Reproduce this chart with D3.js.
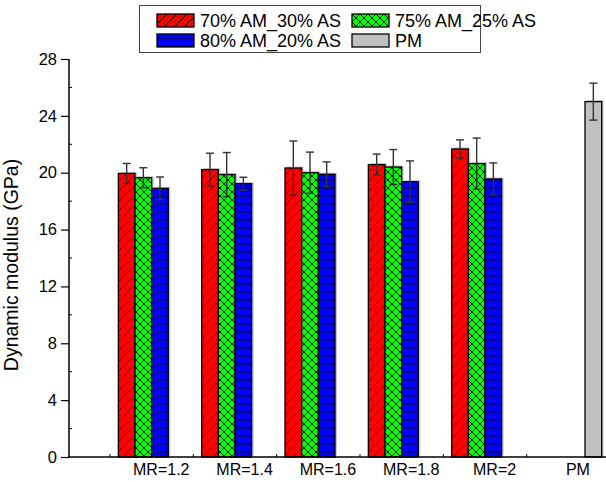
<!DOCTYPE html>
<html>
<head>
<meta charset="utf-8">
<script src="https://cdn.jsdelivr.net/npm/d3@7"></script>
<style>
  body { margin: 0; background: #fff; }
  text { font-family: "Liberation Sans", Arial, sans-serif; fill: #000; }
</style>
</head>
<body>
<svg id="chart" width="606" height="482"></svg>
<script>
// categories and series
var categories = ['MR=1.2', 'MR=1.4', 'MR=1.6', 'MR=1.8', 'MR=2', 'PM'];
var seriesNames = ['70% AM_30% AS', '75% AM_25% AS', '80% AM_20% AS', 'PM'];

// values (GPa) and error bars
var am70 = [19.95, 20.22, 20.33, 20.57, 21.67, null];
var am70Err = [0.70, 1.15, 1.90, 0.74, 0.64, null];
var am75 = [19.65, 19.87, 20.00, 20.40, 20.64, null];
var am75Err = [0.70, 1.55, 1.45, 1.23, 1.80, null];
var am80 = [18.90, 19.23, 19.89, 19.37, 19.56, null];
var am80Err = [0.80, 0.45, 0.87, 1.46, 1.13, null];
var pm = [null, null, null, null, null, 25.0];
var pmErr = [null, null, null, null, null, 1.3];

var yTicks = [0, 4, 8, 12, 16, 20, 24, 28];
var yMinorTicks = [2, 6, 10, 14, 18, 22, 26];

var values = [am70, am75, am80, pm];
var errors = [am70Err, am75Err, am80Err, pmErr];
var fills = ['url(#hatchRed)', 'url(#hatchGreen)', 'url(#hatchBlue)', '#c0c0c0'];

var svg = d3.select('#chart');

// hatch patterns
var defs = svg.append('defs');
function pattern(id, bg, size, paths) {
  var p = defs.append('pattern')
    .attr('id', id)
    .attr('patternUnits', 'userSpaceOnUse')
    .attr('width', size).attr('height', size);
  p.append('rect').attr('width', size).attr('height', size).attr('fill', bg);
  paths.forEach(function(d) {
    p.append('path').attr('d', d).attr('stroke', '#000')
      .attr('stroke-width', 0.9).attr('fill', 'none');
  });
}
pattern('hatchRed', '#ff0000', 10, ['M-2,2 L2,-2 M0,10 L10,0 M8,12 L12,8']);
pattern('hatchGreen', '#00ff00', 8, ['M-2,2 L2,-2 M0,8 L8,0 M6,10 L10,6',
                                     'M-2,6 L2,10 M0,0 L8,8 M6,-2 L10,2']);
pattern('hatchBlue', '#0000ff', 8, ['M0,4 L8,4']);

var plotLeft = 69, plotRight = 610, plotTop = 59, plotBottom = 457;

var x0 = d3.scaleBand().domain(categories).range([110, plotRight]).padding(0);
var x1 = d3.scaleBand().domain(d3.range(4)).range([0, x0.bandwidth()])
  .paddingInner(0).paddingOuter(0.5);
var y = d3.scaleLinear().domain([0, 28]).range([plotBottom, plotTop]);

// flat list of bars
var bars = [];
categories.forEach(function(c, i) {
  values.forEach(function(s, k) {
    if (s[i] != null) bars.push({ cat: c, k: k, v: s[i], e: errors[k][i] });
  });
});

var g = svg.append('g');

// soft shadow behind bars
g.selectAll('rect.shadow')
  .data(bars)
  .enter()
    .append('rect')
    .attr('class', 'shadow')
    .attr('x', function(d) { return x0(d.cat) + x1(d.k) + 2; })
    .attr('y', function(d) { return y(d.v) - 1.5; })
    .attr('width', x1.bandwidth())
    .attr('height', function(d) { return plotBottom - y(d.v); })
    .attr('fill', '#c8c8d4');

g.selectAll('rect.bar')
  .data(bars)
  .enter()
    .append('rect')
    .attr('class', 'bar')
    .attr('x', function(d) { return x0(d.cat) + x1(d.k); })
    .attr('y', function(d) { return y(d.v); })
    .attr('width', x1.bandwidth())
    .attr('height', function(d) { return plotBottom - y(d.v); })
    .attr('fill', function(d) { return fills[d.k]; })
    .attr('stroke', '#000')
    .attr('stroke-width', 1.3);

// error bars
var eb = g.selectAll('g.err')
  .data(bars)
  .enter()
    .append('g')
    .attr('class', 'err')
    .attr('stroke', '#333')
    .attr('stroke-width', 1.4);
function cx(d) { return x0(d.cat) + x1(d.k) + x1.bandwidth() / 2; }
eb.append('line')
  .attr('x1', cx).attr('x2', cx)
  .attr('y1', function(d) { return y(d.v + d.e); })
  .attr('y2', function(d) { return y(d.v - d.e); });
[1, -1].forEach(function(sg) {
  eb.append('line')
    .attr('x1', function(d) { return cx(d) - 4; })
    .attr('x2', function(d) { return cx(d) + 4; })
    .attr('y1', function(d) { return y(d.v + sg * d.e); })
    .attr('y2', function(d) { return y(d.v + sg * d.e); });
});

// y axis
var yAxis = svg.append('g')
  .attr('transform', 'translate(' + plotLeft + ',0)')
  .call(d3.axisLeft(y).tickValues(yTicks).tickSize(8).tickPadding(4).tickFormat(d3.format('d')));
yAxis.select('.domain').attr('stroke', '#000').attr('stroke-width', 1.5)
  .attr('d', 'M0,' + plotTop + 'V' + plotBottom);
yAxis.selectAll('.tick line').attr('stroke-width', 1.2);
yAxis.selectAll('text').style('font-size', '16.5px')
  .style('font-family', '"Liberation Sans", Arial, sans-serif');
svg.append('g')
  .attr('transform', 'translate(' + plotLeft + ',0)')
  .selectAll('line')
  .data(yMinorTicks)
  .enter()
    .append('line')
    .attr('x1', 0).attr('x2', 3)
    .attr('y1', y).attr('y2', y)
    .attr('stroke', '#000');

// x axis
svg.append('line')
  .attr('x1', plotLeft - 1).attr('x2', 606)
  .attr('y1', plotBottom).attr('y2', plotBottom)
  .attr('stroke', '#000').attr('stroke-width', 1.5);
svg.append('g').selectAll('line')
  .data(categories)
  .enter()
    .append('line')
    .attr('x1', function(d) { return x0(d); })
    .attr('x2', function(d) { return x0(d); })
    .attr('y1', plotBottom).attr('y2', plotBottom - 3)
    .attr('stroke', '#000');
svg.append('g').selectAll('text')
  .data(categories)
  .enter()
    .append('text')
    .attr('x', function(d) { return x0(d) + x0.bandwidth() * 0.615; })
    .attr('y', 475)
    .attr('text-anchor', 'middle')
    .style('font-size', '16px')
    .text(function(d) { return d; });

// y title
svg.append('text')
  .attr('transform', 'translate(18,265) rotate(-90)')
  .attr('text-anchor', 'middle')
  .style('font-size', '19.5px')
  .text('Dynamic modulus (GPa)');

// legend
var legend = svg.append('g');
legend.append('rect')
  .attr('x', 139.5).attr('y', 5.5).attr('width', 341).attr('height', 47)
  .attr('fill', '#fff').attr('stroke', '#444').attr('stroke-width', 1);
var items = legend.selectAll('g.item')
  .data(seriesNames)
  .enter()
    .append('g')
    .attr('transform', function(d, i) {
      return 'translate(' + (i % 2 ? 352 : 157) + ',' + (i < 2 ? 14 : 34) + ')';
    });
items.append('rect')
  .attr('width', 37).attr('height', 13)
  .attr('fill', function(d, i) { return fills[i]; })
  .attr('stroke', '#000').attr('stroke-width', 1.3);
items.append('text')
  .attr('x', 43).attr('y', 13)
  .style('font-size', '18px')
  .text(function(d) { return d; });
</script>
</body>
</html>
